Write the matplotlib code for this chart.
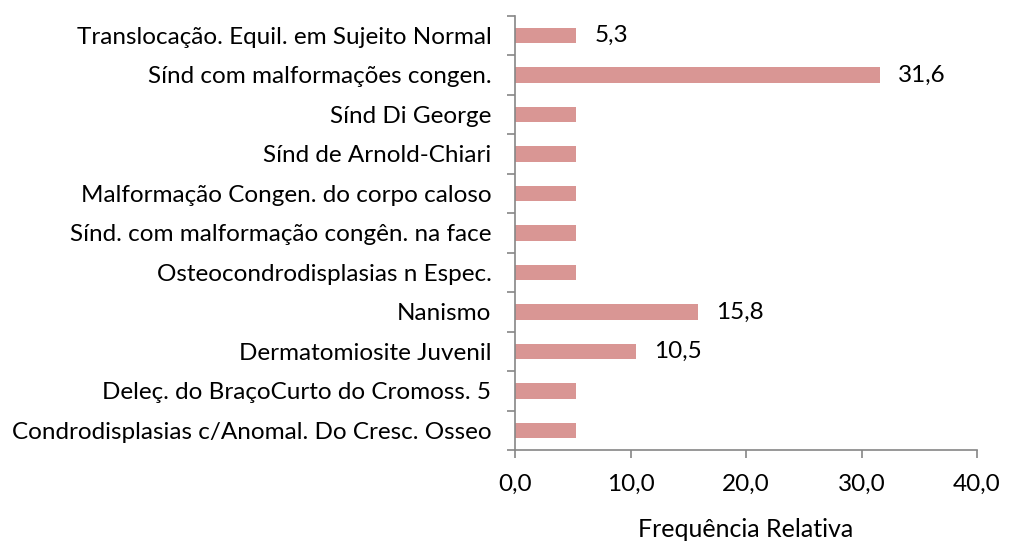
import matplotlib
matplotlib.use("Agg")
import matplotlib.pyplot as plt

categories = [
    "Condrodisplasias c/Anomal. Do Cresc. Osseo",
    "Deleç. do BraçoCurto do Cromoss. 5",
    "Dermatomiosite Juvenil",
    "Nanismo",
    "Osteocondrodisplasias n Espec.",
    "Sínd. com malformação congên. na face",
    "Malformação Congen. do corpo caloso",
    "Sínd de Arnold-Chiari",
    "Sínd Di George",
    "Sínd com malformações congen.",
    "Translocação. Equil. em Sujeito Normal",
]
values = [5.3, 5.3, 10.5, 15.8, 5.3, 5.3, 5.3, 5.3, 5.3, 31.6, 5.3]
bar_labels = [None, None, "10,5", "15,8", None, None, None, None, None, "31,6", "5,3"]
xticks = [0, 10, 20, 30, 40]
xtick_labels = ["0,0", "10,0", "20,0", "30,0", "40,0"]

plt.rcParams['font.family'] = ['Lato', 'DejaVu Sans']

fig = plt.figure(figsize=(10.22, 5.43), dpi=100)
ax = fig.add_axes([0.504, 0.171, 0.452, 0.800])

gray = "#868686"
fs = 17.5
ypos = list(range(len(categories)))
ax.barh(ypos, values, height=0.4, color="#D99694")

for y, v, lab in zip(ypos, values, bar_labels):
    if lab:
        ax.annotate(lab, (v, y), xytext=(13, 0), textcoords="offset points",
                    va="center", ha="left", fontsize=fs, color="black")

ax.set_xlim(0, 40)
ax.set_ylim(-0.5, len(categories) - 0.5)
ax.set_xticks(xticks)
ax.set_xticklabels(xtick_labels, fontsize=fs)
ax.set_yticks(ypos)
ax.set_yticklabels(categories, fontsize=fs)
ax.set_yticks([i - 0.5 for i in range(len(categories) + 1)], minor=True)
ax.tick_params(axis="y", which="major", length=0, pad=17)
ax.tick_params(axis="y", which="minor", length=6, color=gray, width=1.2)
ax.tick_params(axis="x", which="major", length=6, color=gray, width=1.2, pad=11)

for s in ["top", "right"]:
    ax.spines[s].set_visible(False)
for s in ["left", "bottom"]:
    ax.spines[s].set_color(gray)
    ax.spines[s].set_linewidth(1.2)

ax.set_xlabel("Frequência Relativa", fontsize=18, labelpad=17)

fig.savefig("out.png", dpi=100)
